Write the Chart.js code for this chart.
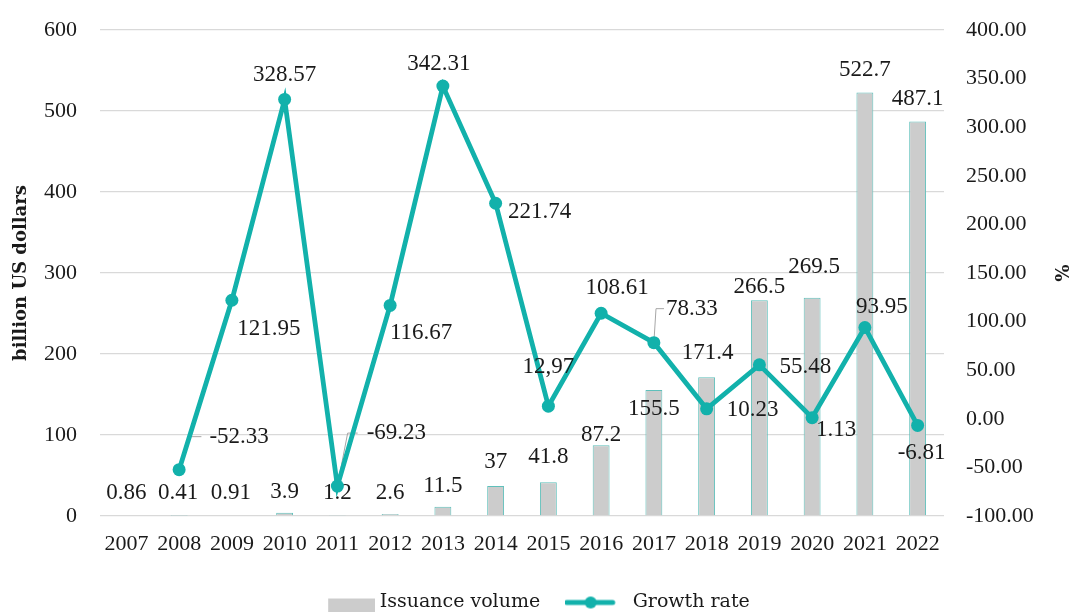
<!DOCTYPE html>
<html><head><meta charset="utf-8">
<script src="https://cdn.jsdelivr.net/npm/chart.js@4"></script>
<style>html,body{margin:0;padding:0;background:#fff;}</style>
</head><body>
<canvas id="c" width="1070" height="612"></canvas>
<script>
const years = ['2007','2008','2009','2010','2011','2012','2013','2014','2015','2016','2017','2018','2019','2020','2021','2022'];
const issuanceVolume = [0.86, 0.41, 0.91, 3.9, 1.2, 2.6, 11.5, 37, 41.8, 87.2, 155.5, 171.4, 266.5, 269.5, 522.7, 487.1];
const growthRate = [null, -52.33, 121.95, 328.57, -69.23, 116.67, 342.31, 221.74, 12.97, 108.61, 78.33, 10.23, 55.48, 1.13, 93.95, -6.81];
const growthLabelText = ['', '-52.33', '121.95', '328.57', '-69.23', '116.67', '342.31', '221.74', '12,97', '108.61', '78.33', '10.23', '55.48', '1.13', '93.95', '-6.81'];
const seriesNames = ['Issuance volume', 'Growth rate'];
const leftAxisTitle = 'billion US dollars';
const rightAxisTitle = '%';

// label placement (pixel offsets from the mark)
const barLabelOffset = [[0,-22],[-1,-23],[-1,-22],[0,-21],[0,-22],[0,-21],[0,-21],[0,-24],[0,-25],[0,-10],[0,19],[1,-24],[0,-13],[2,-31],[0,-23],[0,-22]];
const lineLabelOffset = [null,[60,-33],[37,29],[0,-24],[59,-53],[31,28],[-4,-22],[44,9],[0,-39],[16,-25],[38,-34],[46,1],[46,2],[24,12],[17,-21],[4,28]];
const leaderLines = {1:[19,8], 4:[19,9], 10:[10,2]};

const TEAL = '#12b1ab';
const NUM_FONT = '23px "Liberation Serif"';

function barSwatch(){
  const c = document.createElement('canvas'); c.width = 60; c.height = 20;
  const g = c.getContext('2d'); g.fillStyle = '#cccccc'; g.fillRect(13, 6, 47, 14);
  return c;
}
function lineSwatch(){
  const c = document.createElement('canvas'); c.width = 67; c.height = 16;
  const g = c.getContext('2d');
  g.strokeStyle = TEAL; g.lineWidth = 5; g.lineCap = 'round';
  g.beginPath(); g.moveTo(2, 8); g.lineTo(48, 8); g.stroke();
  g.fillStyle = TEAL; g.beginPath(); g.arc(26, 8, 6, 0, Math.PI*2); g.fill();
  return c;
}

const labelPlugin = {
  id: 'valueLabels',
  beforeDatasetsDraw(chart){
    const ctx = chart.ctx;
    const meta = chart.getDatasetMeta(1);
    ctx.save();
    ctx.font = NUM_FONT;
    ctx.strokeStyle = '#a6a6a6'; ctx.lineWidth = 1;
    Object.keys(leaderLines).forEach(k => {
      const i = +k; const el = meta.data[i];
      const [dx, dy] = lineLabelOffset[i];
      const w = ctx.measureText(growthLabelText[i]).width;
      const left = el.x + dx - w/2, ly = el.y + dy;
      ctx.beginPath(); ctx.moveTo(el.x, el.y);
      ctx.lineTo(left - leaderLines[i][0], ly);
      ctx.lineTo(left - leaderLines[i][1], ly);
      ctx.stroke();
    });
    ctx.restore();
  },
  afterDatasetDraw(chart, args){
    if (args.index !== 0) return;
    const ctx = chart.ctx;
    ctx.save();
    ctx.font = NUM_FONT; ctx.fillStyle = '#1a1a1a';
    ctx.textAlign = 'center'; ctx.textBaseline = 'middle';
    args.meta.data.forEach((el, i) => {
      const [dx, dy] = barLabelOffset[i];
      ctx.fillText(String(issuanceVolume[i]), el.x + dx, el.y + dy);
    });
    ctx.restore();
  },
  afterDatasetsDraw(chart){
    const ctx = chart.ctx;
    const meta = chart.getDatasetMeta(1);
    ctx.save();
    ctx.font = NUM_FONT; ctx.fillStyle = '#1a1a1a';
    ctx.textAlign = 'center'; ctx.textBaseline = 'middle';
    meta.data.forEach((el, i) => {
      if (growthRate[i] === null) return;
      const [dx, dy] = lineLabelOffset[i];
      ctx.fillText(growthLabelText[i], el.x + dx, el.y + dy);
    });
    ctx.restore();
  }
};

Chart.defaults.font.family = '"Liberation Serif", serif';
Chart.defaults.font.size = 22;
Chart.defaults.color = '#1a1a1a';

new Chart(document.getElementById('c'), {
  type: 'bar',
  data: {
    labels: years,
    datasets: [
      { label: seriesNames[0], data: issuanceVolume, yAxisID: 'y', order: 2,
        backgroundColor: '#cccccc', borderColor: '#5fc0bb', borderWidth: 1,
        barPercentage: 0.4, categoryPercentage: 0.8 },
      { label: seriesNames[1], type: 'line', data: growthRate, yAxisID: 'y1', order: 1,
        borderColor: TEAL, backgroundColor: TEAL, borderWidth: 4.8,
        pointRadius: 6.5, pointBackgroundColor: TEAL, pointBorderColor: TEAL, pointBorderWidth: 0,
        tension: 0, spanGaps: false }
    ]
  },
  options: {
    responsive: false, animation: false, devicePixelRatio: 1,
    layout: { padding: { top: 30, bottom: -10, left: 0, right: 0 } },
    plugins: {
      tooltip: { enabled: false },
      legend: {
        position: 'bottom',
        labels: {
          font: { family: '"DejaVu Serif"', size: 19 },
          color: '#1a1a1a',
          usePointStyle: true, pointStyleWidth: 50, boxHeight: 14, padding: 33,
          generateLabels: (chart) => {
            const sw = [barSwatch(), lineSwatch()];
            return chart.data.datasets.map((ds, i) => ({
              text: ds.label, pointStyle: sw[i], datasetIndex: i, hidden: false,
              fillStyle: 'transparent', strokeStyle: 'transparent', lineWidth: 0, fontColor: '#1a1a1a'
            }));
          }
        }
      }
    },
    scales: {
      x: {
        grid: { display: false, drawTicks: false }, border: { display: false },
        ticks: { padding: 15, font: { size: 22 } },
        afterFit: s => { s.height = 44; }
      },
      y: {
        position: 'left', min: 0, max: 600,
        ticks: { stepSize: 100, padding: 23, font: { size: 22, lineHeight: 0.5 } },
        grid: { color: '#d9d9d9', lineWidth: 1.3, drawTicks: false }, border: { display: false },
        title: { display: true, text: leftAxisTitle, font: { family: '"DejaVu Serif"', size: 18, weight: 'bold' }, padding: { top: 11, bottom: 0 } },
        afterFit: s => { s.width = 100; }
      },
      y1: {
        position: 'right', min: -100, max: 400,
        ticks: { stepSize: 50, padding: 22, font: { size: 22, lineHeight: 0.5 }, callback: v => Number(v).toFixed(2) },
        grid: { display: false, drawTicks: false }, border: { display: false },
        title: { display: true, text: rightAxisTitle, font: { family: '"DejaVu Serif"', size: 18, weight: 'bold' }, padding: { top: 0, bottom: 0 } },
        afterFit: s => { s.width = 126; }
      }
    }
  },
  plugins: [labelPlugin]
});
</script>
</body></html>
